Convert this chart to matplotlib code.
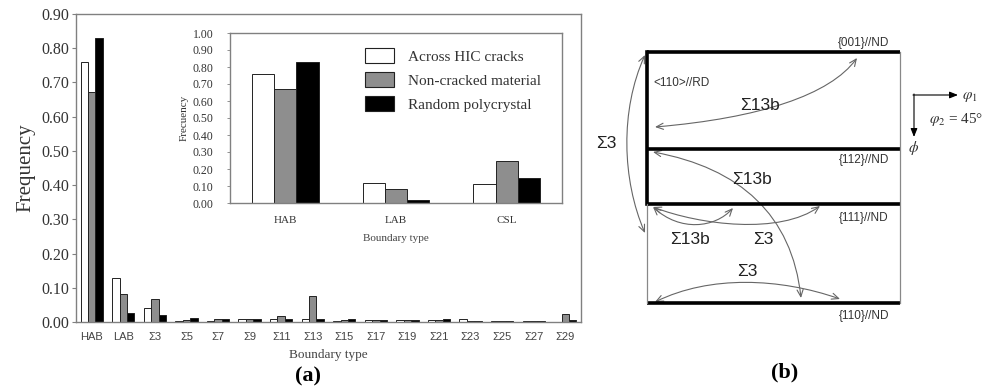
import numpy as np
import matplotlib
matplotlib.use("Agg")
import matplotlib.pyplot as plt
from matplotlib.patches import FancyArrowPatch, Patch
from matplotlib.path import Path
from matplotlib.ticker import FormatStrFormatter, MultipleLocator

plt.rcParams["mathtext.fontset"] = "stix"

# --- data, panel (a) main chart ---
categories = ["HAB", "LAB", "Σ3", "Σ5", "Σ7", "Σ9", "Σ11", "Σ13", "Σ15",
              "Σ17", "Σ19", "Σ21", "Σ23", "Σ25", "Σ27", "Σ29"]
across_hic = [0.761, 0.130, 0.040, 0.002, 0.003, 0.010, 0.010, 0.010, 0.002,
              0.005, 0.005, 0.005, 0.008, 0.003, 0.004, 0.000]
non_cracked = [0.672, 0.082, 0.066, 0.007, 0.008, 0.010, 0.018, 0.077, 0.005,
               0.007, 0.007, 0.005, 0.004, 0.004, 0.004, 0.022]
random_poly = [0.831, 0.025, 0.020, 0.012, 0.010, 0.010, 0.008, 0.008, 0.010,
               0.005, 0.005, 0.008, 0.004, 0.004, 0.004, 0.005]

# --- data, inset ---
inset_categories = ["HAB", "LAB", "CSL"]
inset_across = [0.76, 0.12, 0.11]
inset_non_cracked = [0.67, 0.08, 0.25]
inset_random = [0.83, 0.015, 0.15]

series_names = ["Across HIC cracks", "Non-cracked material", "Random polycrystal"]
fills = ["white", "#8e8e8e", "black"]
edge = "#222222"
frame = "#808080"
serif = "Liberation Serif"
sans = "Liberation Sans"

W, H = 984, 391
fig = plt.figure(figsize=(W / 100, H / 100), dpi=100)


def frac(x0, y0, x1, y1):
    # pixel box (top-left origin) -> figure fraction
    return [x0 / W, 1 - y1 / H, (x1 - x0) / W, (y1 - y0) / H]


# ---------------- main chart ----------------
ax = fig.add_axes(frac(76, 14, 581, 322))
x = np.arange(len(categories))
bw = 0.235
for k, vals in enumerate([across_hic, non_cracked, random_poly]):
    ax.bar(x + (k - 1) * bw, vals, bw, color=fills[k], edgecolor=edge, linewidth=0.7)
ax.set_xlim(-0.5, len(categories) - 0.5)
ax.set_ylim(0, 0.9)
ax.yaxis.set_major_locator(MultipleLocator(0.1))
ax.yaxis.set_major_formatter(FormatStrFormatter("%.2f"))
ax.set_xticks(x)
ax.set_xticklabels(categories, family=sans, fontsize=8, color="#444444")
ax.tick_params(axis="x", length=0, pad=7)
ax.tick_params(axis="y", length=3, width=0.8, color=frame, pad=2,
               labelsize=11.5, labelcolor="#333333")
for lab in ax.get_yticklabels():
    lab.set_family(serif)
for s in ax.spines.values():
    s.set_color(frame)
    s.set_linewidth(1.0)
ax.set_ylabel("Frequency", family=serif, fontsize=15, color="#333333", labelpad=4)
ax.set_xlabel("Boundary type", family=serif, fontsize=9.5, color="#444444", labelpad=5)

# ---------------- inset ----------------
axi = fig.add_axes(frac(230, 33, 562, 203))
xi = np.arange(len(inset_categories))
bwi = 0.2
handles = []
for k, vals in enumerate([inset_across, inset_non_cracked, inset_random]):
    axi.bar(xi + (k - 1) * bwi, vals, bwi, color=fills[k], edgecolor=edge, linewidth=0.7)
    handles.append(Patch(facecolor=fills[k], edgecolor=edge, linewidth=0.8,
                         label=series_names[k]))
axi.set_xlim(-0.5, 2.5)
axi.set_ylim(0, 1.0)
axi.yaxis.set_major_locator(MultipleLocator(0.1))
axi.yaxis.set_major_formatter(FormatStrFormatter("%.2f"))
axi.set_xticks(xi)
axi.set_xticklabels(inset_categories, family=serif, fontsize=8, color="#333333")
axi.tick_params(axis="x", length=0, pad=9)
axi.tick_params(axis="y", length=2, width=0.6, color=frame, pad=10,
                labelsize=8.5, labelcolor="#333333")
for lab in axi.get_yticklabels():
    lab.set_family(serif)
for s in axi.spines.values():
    s.set_color(frame)
    s.set_linewidth(1.0)
axi.set_ylabel("Frecuency", family=serif, fontsize=8, color="#333333", labelpad=3)
axi.set_xlabel("Boundary type", family=serif, fontsize=8, color="#444444", labelpad=7)
axi.legend(handles=handles, loc="upper left", bbox_to_anchor=(0.365, 0.99),
           frameon=False, prop={"family": serif, "size": 11},
           handlelength=1.9, handleheight=1.1, handletextpad=0.9,
           labelspacing=0.55, labelcolor="#333333")

fig.text(308 / W, 1 - 376 / H, "(a)", family=serif, fontsize=16,
         fontweight="bold", ha="center", va="center")

# ---------------- panel (b): schematic in pixel coordinates ----------------
axb = fig.add_axes([0, 0, 1, 1], zorder=-1)
axb.set_xlim(0, W)
axb.set_ylim(H, 0)
axb.axis("off")

bx0, bx1 = 647, 900
levels = [52, 149, 204, 303]
for yl in levels:
    axb.plot([bx0, bx1], [yl, yl], color="black", lw=2.6, solid_capstyle="butt")
axb.plot([bx0, bx0], [levels[0], levels[2]], color="black", lw=2.6)
axb.plot([bx0, bx0], [levels[2], levels[3]], color="#888888", lw=0.9)
axb.plot([bx1, bx1], [levels[0], levels[3]], color="#888888", lw=0.9)

planes = ["{001}//ND", "{112}//ND", "{111}//ND", "{110}//ND"]
plane_y = [43, 160, 218, 316]
for lab, yy in zip(planes, plane_y):
    axb.text(864, yy, lab, family=sans, fontsize=8.5, color="#333333",
             ha="center", va="center")
axb.text(653, 83, "<110>//RD", family=sans, fontsize=8.5, color="#333333",
         ha="left", va="center")

curves = [
    [(645, 55), (620, 110), (622, 180), (645, 233)],
    [(655, 127), (760, 118), (830, 95), (857, 58)],
    [(653, 152), (740, 168), (792, 215), (801, 298)],
    [(653, 207), (680, 232), (715, 228), (733, 208)],
    [(653, 207), (700, 225), (780, 235), (820, 206)],
    [(655, 302), (710, 275), (780, 278), (840, 299)],
]
for pts in curves:
    p = Path(pts, [Path.MOVETO, Path.CURVE4, Path.CURVE4, Path.CURVE4])
    arr = FancyArrowPatch(path=p, arrowstyle="<->,head_length=0.5,head_width=0.22",
                          mutation_scale=10, color="#666666", lw=0.8)
    axb.add_patch(arr)

sigma_labels = [("Σ13b", 760, 105), ("Σ3", 606, 143), ("Σ13b", 752, 180),
                ("Σ13b", 690, 240), ("Σ3", 763, 240), ("Σ3", 747, 272)]
for lab, xx, yy in sigma_labels:
    axb.text(xx, yy, lab, family=sans, fontsize=12.5, color="#222222",
             ha="center", va="center")

# orientation key
axb.annotate("", xy=(958, 95), xytext=(913, 95),
             arrowprops=dict(arrowstyle="-|>,head_length=0.5,head_width=0.2",
                             color="black", lw=0.8, shrinkA=0, shrinkB=0))
axb.annotate("", xy=(914, 137), xytext=(914, 94),
             arrowprops=dict(arrowstyle="-|>,head_length=0.5,head_width=0.2",
                             color="black", lw=0.8, shrinkA=0, shrinkB=0))
axb.text(962, 96, r"$\varphi_1$", fontsize=11, ha="left", va="center", color="#333333")
axb.text(956, 120, r"$\varphi_2$ = 45°", family=serif, fontsize=11,
         ha="center", va="center", color="#333333")
axb.text(914, 148, r"$\phi$", fontsize=11, ha="center", va="center", color="#333333")

axb.text(785, 372, "(b)", family=serif, fontsize=16, fontweight="bold",
         ha="center", va="center")

fig.savefig("out.png", dpi=100)
